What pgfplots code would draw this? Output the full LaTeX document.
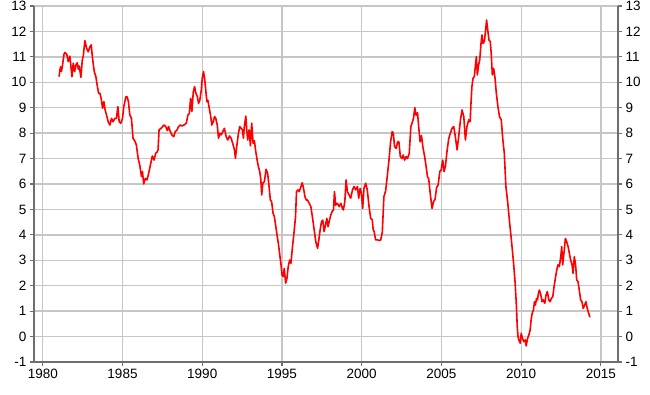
\documentclass[border=0pt]{standalone}
\usepackage{pgfplots}
\pgfplotsset{compat=1.18}
\usepackage{pgfplotstable}
\usepackage{fontspec}
\setmainfont{Liberation Sans}
\definecolor{gridgray}{RGB}{198,198,198}
\definecolor{axgray}{RGB}{110,110,110}
\pgfplotstableread{
year val
1981.02 10.22
1981.08 10.50
1981.12 10.61
1981.17 10.42
1981.23 10.64
1981.33 11.10
1981.39 11.17
1981.50 11.11
1981.60 10.81
1981.70 11.03
1981.83 10.22
1981.91 10.75
1982.00 10.42
1982.08 10.68
1982.16 10.77
1982.23 10.51
1982.29 10.64
1982.39 10.19
1982.48 10.88
1982.54 11.03
1982.64 11.64
1982.75 11.34
1982.85 11.20
1982.96 11.40
1983.04 11.47
1983.12 10.94
1983.23 10.42
1983.33 10.22
1983.41 9.89
1983.50 9.57
1983.58 9.57
1983.66 9.37
1983.75 8.98
1983.83 9.24
1983.91 8.91
1984.00 8.71
1984.10 8.45
1984.21 8.32
1984.31 8.58
1984.41 8.45
1984.52 8.58
1984.62 8.58
1984.71 9.04
1984.79 8.45
1984.89 8.39
1985.00 8.58
1985.08 9.04
1985.21 9.43
1985.29 9.43
1985.37 9.24
1985.46 8.71
1985.56 8.58
1985.66 7.80
1985.79 7.67
1985.87 7.53
1985.98 7.01
1986.08 6.75
1986.19 6.29
1986.25 6.49
1986.33 6.00
1986.43 6.22
1986.54 6.16
1986.64 6.42
1986.77 6.81
1986.87 7.10
1986.98 6.94
1987.08 7.21
1987.16 7.25
1987.23 7.34
1987.29 8.13
1987.42 8.19
1987.60 8.32
1987.71 8.26
1987.81 8.10
1987.89 8.26
1988.00 8.06
1988.10 7.93
1988.21 7.86
1988.31 8.06
1988.42 8.13
1988.52 8.26
1988.62 8.32
1988.73 8.28
1988.85 8.32
1989.00 8.39
1989.10 8.71
1989.19 8.78
1989.27 9.37
1989.35 8.85
1989.44 9.63
1989.52 9.83
1989.60 9.57
1989.69 9.44
1989.77 9.17
1989.85 9.30
1989.94 9.70
1990.00 10.16
1990.08 10.42
1990.16 10.09
1990.23 9.63
1990.29 9.24
1990.35 9.30
1990.44 8.98
1990.52 8.71
1990.60 8.32
1990.69 8.45
1990.77 8.65
1990.85 8.58
1990.94 8.32
1991.02 7.80
1991.10 7.99
1991.19 7.93
1991.29 8.06
1991.39 8.19
1991.50 7.86
1991.60 7.73
1991.71 7.89
1991.81 7.80
1991.91 7.60
1992.02 7.34
1992.08 7.01
1992.16 7.47
1992.27 7.99
1992.35 8.26
1992.44 8.19
1992.52 8.13
1992.58 7.80
1992.64 8.26
1992.73 8.67
1992.79 8.13
1992.85 7.73
1992.94 8.13
1993.02 7.50
1993.10 8.39
1993.19 7.60
1993.27 7.70
1993.35 7.30
1993.44 6.95
1993.52 6.68
1993.60 6.50
1993.67 6.20
1993.73 5.57
1993.80 6.03
1993.90 6.10
1994.00 6.58
1994.10 6.42
1994.18 5.96
1994.27 5.37
1994.35 5.31
1994.44 4.85
1994.52 4.72
1994.60 4.39
1994.69 3.99
1994.77 3.67
1994.85 3.27
1994.94 2.82
1995.00 2.42
1995.08 2.36
1995.14 2.68
1995.23 2.10
1995.31 2.29
1995.39 2.75
1995.48 3.01
1995.56 2.88
1995.66 3.54
1995.77 4.19
1995.85 4.72
1995.91 5.70
1996.00 5.77
1996.08 5.70
1996.19 5.90
1996.27 6.05
1996.35 5.83
1996.44 5.50
1996.52 5.37
1996.60 5.37
1996.71 5.24
1996.81 5.11
1996.92 4.65
1997.02 4.19
1997.12 3.73
1997.23 3.47
1997.31 3.80
1997.39 4.19
1997.48 4.52
1997.56 4.58
1997.64 4.13
1997.73 4.39
1997.81 4.65
1997.89 4.32
1997.98 4.58
1998.06 4.78
1998.14 4.91
1998.23 4.98
1998.29 5.70
1998.37 5.17
1998.48 5.24
1998.58 5.11
1998.69 5.24
1998.79 5.04
1998.85 4.98
1998.94 5.31
1999.02 6.16
1999.10 5.70
1999.21 5.57
1999.31 5.44
1999.42 5.77
1999.52 5.90
1999.62 5.77
1999.73 5.90
1999.81 5.44
1999.90 5.83
1999.98 5.63
2000.06 5.04
2000.14 5.83
2000.25 6.03
2000.35 5.76
2000.46 5.11
2000.56 4.65
2000.66 4.59
2000.72 4.20
2000.78 4.13
2000.87 3.80
2001.00 3.80
2001.10 3.78
2001.19 3.80
2001.29 4.10
2001.39 5.50
2001.50 5.73
2001.60 6.30
2001.71 6.94
2001.81 7.66
2001.91 8.06
2001.98 8.00
2002.06 7.47
2002.16 7.40
2002.25 7.66
2002.33 7.66
2002.42 7.08
2002.52 7.00
2002.60 7.14
2002.69 6.94
2002.79 7.08
2002.87 7.00
2002.98 7.20
2003.08 8.26
2003.16 8.40
2003.25 8.60
2003.33 9.00
2003.41 8.70
2003.50 8.80
2003.58 8.20
2003.66 7.66
2003.75 7.90
2003.83 7.47
2003.94 7.10
2004.04 6.68
2004.12 6.29
2004.20 6.20
2004.30 5.60
2004.41 5.04
2004.50 5.30
2004.60 5.40
2004.69 5.85
2004.79 5.96
2004.90 6.50
2004.98 6.55
2005.08 6.94
2005.16 6.49
2005.25 6.70
2005.35 7.30
2005.46 7.80
2005.56 8.00
2005.67 8.20
2005.77 8.26
2005.87 7.86
2005.98 7.34
2006.08 7.86
2006.19 8.52
2006.29 8.91
2006.40 8.65
2006.50 7.73
2006.60 8.26
2006.71 8.52
2006.80 8.45
2006.85 9.17
2006.91 9.83
2006.98 10.16
2007.06 10.22
2007.12 10.61
2007.19 11.01
2007.25 10.29
2007.33 10.68
2007.40 10.88
2007.48 11.53
2007.54 11.86
2007.60 11.53
2007.69 11.60
2007.77 12.06
2007.83 12.45
2007.90 12.06
2007.98 11.66
2008.06 11.60
2008.12 11.14
2008.19 10.29
2008.27 10.55
2008.35 10.22
2008.44 9.57
2008.54 9.04
2008.64 8.65
2008.75 8.52
2008.85 7.73
2008.94 7.21
2009.04 5.90
2009.15 5.30
2009.27 4.50
2009.40 3.70
2009.52 2.90
2009.62 2.10
2009.70 1.20
2009.75 0.40
2009.80 0.00
2009.85 -0.13
2009.94 -0.26
2010.00 0.13
2010.08 -0.07
2010.16 -0.20
2010.25 -0.13
2010.31 -0.37
2010.40 -0.07
2010.48 0.06
2010.56 0.26
2010.62 0.65
2010.69 0.92
2010.77 1.05
2010.83 1.37
2010.89 1.24
2010.96 1.50
2011.02 1.44
2011.08 1.70
2011.14 1.83
2011.23 1.64
2011.31 1.37
2011.39 1.44
2011.48 1.31
2011.56 1.64
2011.64 1.77
2011.73 1.44
2011.81 1.37
2011.89 1.50
2011.98 1.57
2012.06 1.96
2012.14 2.29
2012.23 2.62
2012.31 2.82
2012.39 2.75
2012.48 3.14
2012.54 3.54
2012.60 2.82
2012.69 3.34
2012.77 3.86
2012.85 3.73
2012.94 3.54
2013.02 3.27
2013.10 3.01
2013.19 2.82
2013.25 2.49
2013.33 3.14
2013.41 2.82
2013.48 2.23
2013.56 2.16
2013.64 1.83
2013.73 1.44
2013.81 1.37
2013.89 1.11
2013.98 1.24
2014.06 1.37
2014.14 1.11
2014.23 0.92
2014.31 0.76
}\datatable
\begin{document}
\begin{tikzpicture}
\pgfplotsset{
  base/.style={
    scale only axis, width=584pt, height=356pt,
    at={(0,0)}, anchor=south west,
    xmin=1979.45, xmax=2016.07, ymin=-1, ymax=13,
    ytick={-1,0,...,13},
    tick align=outside, major tick length=4pt,
    tick style={axgray, line width=1.1pt},
    axis line style={axgray, line width=1.6pt},
    ticklabel style={font=\fontsize{13.5}{15}\selectfont, text=black},
    /pgf/number format/assume math mode=true,
    /pgf/number format/1000 sep={},
  },
}
\begin{axis}[base,
  axis x line*=bottom, axis y line*=left,
  xtick={1980,1985,...,2015},
  grid=major, major grid style={gridgray, line width=1.3pt},
  clip=false,
]
\addplot[red, line width=1.6pt, line join=round, mark=none] table[x=year, y=val] {\datatable};
\end{axis}
\begin{axis}[base,
  axis y line*=right, axis x line=none,
  xtick=\empty,
]
\end{axis}
\pgfresetboundingbox
\path[use as bounding box] (-34pt,-33pt) rectangle (616pt,362pt);
\end{tikzpicture}
\end{document}
